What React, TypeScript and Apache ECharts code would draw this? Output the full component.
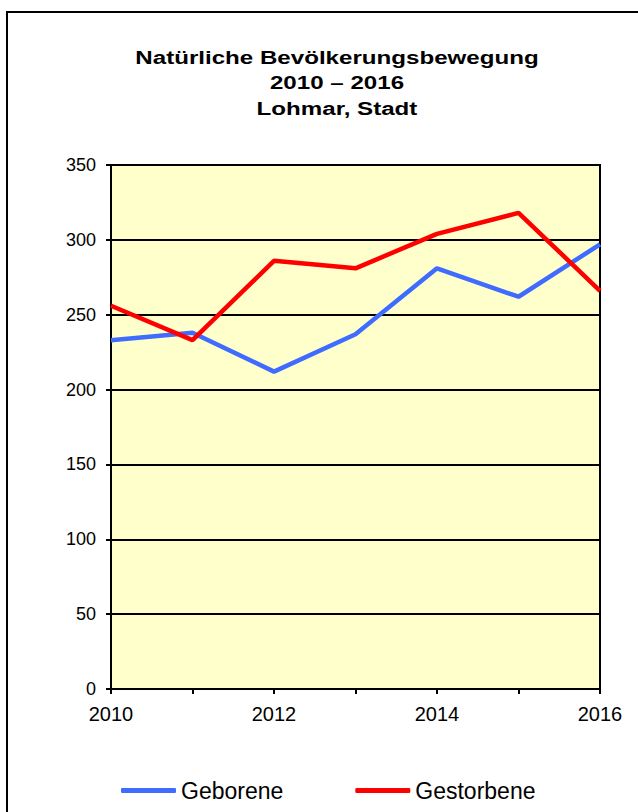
import React, { useEffect, useRef } from "react";
import * as echarts from "echarts";

const years = ["2010", "2011", "2012", "2013", "2014", "2015", "2016"];
const geborene = [233, 238, 212, 237, 281, 262, 297];
const gestorbene = [256, 233, 286, 281, 304, 318, 266];
const titleLines = ["Natürliche Bevölkerungsbewegung", "2010 – 2016", "Lohmar, Stadt"];

export default function App() {
  const ref = useRef<HTMLDivElement>(null);
  useEffect(() => {
    document.body.style.margin = "0";
    const chart = echarts.init(ref.current!, null, { renderer: "svg" });
    const font = "'Liberation Sans', Arial, sans-serif";
    const titleY = [57, 82, 108];
    chart.setOption({
      animation: false,
      backgroundColor: "#ffffff",
      textStyle: { fontFamily: font },
      graphic: [
        {
          type: "rect",
          shape: { x: 7, y: 12, width: 700, height: 900 },
          style: { fill: "none", stroke: "#000", lineWidth: 2 },
          silent: true,
        },
        ...titleLines.map((t, i) => ({
          type: "text",
          x: 337,
          y: titleY[i],
          scaleX: 1.27,
          silent: true,
          style: {
            text: t,
            fontFamily: font,
            fontSize: 19,
            fontWeight: "bold",
            fill: "#000",
            textAlign: "center",
            textVerticalAlign: "middle",
          },
        })),
      ],
      legend: {
        top: 774,
        left: 116,
        icon: "roundRect",
        itemWidth: 55,
        itemHeight: 5,
        itemGap: 72,
        textStyle: { fontFamily: font, fontSize: 23, color: "#000" },
        data: ["Geborene", "Gestorbene"],
      },
      grid: {
        left: 111,
        top: 165,
        right: 38,
        bottom: 123,
        backgroundColor: "#FFFFCC",
        show: true,
        borderWidth: 2,
        borderColor: "#000",
      },
      xAxis: {
        type: "category",
        data: years,
        boundaryGap: false,
        axisLine: { lineStyle: { color: "#000", width: 2 } },
        axisTick: { show: true, length: 5, interval: 0, lineStyle: { color: "#000", width: 2 } },
        axisLabel: { interval: 1, color: "#000", fontSize: 20, margin: 15, fontFamily: font },
        splitLine: { show: false },
      },
      yAxis: {
        type: "value",
        min: 0,
        max: 350,
        interval: 50,
        axisLine: { show: true, lineStyle: { color: "#000", width: 2 } },
        axisTick: { show: true, length: 5, lineStyle: { color: "#000", width: 2 } },
        axisLabel: { color: "#000", fontSize: 18, margin: 15, fontFamily: font },
        splitLine: { show: true, lineStyle: { color: "#000", width: 2 } },
      },
      series: [
        {
          name: "Geborene",
          type: "line",
          data: geborene,
          symbol: "none",
          color: "#3F6BFF",
          lineStyle: { color: "#3F6BFF", width: 4.5 },
        },
        {
          name: "Gestorbene",
          type: "line",
          data: gestorbene,
          symbol: "none",
          color: "#FF0000",
          lineStyle: { color: "#FF0000", width: 4.5 },
        },
      ],
    });
    return () => chart.dispose();
  }, []);
  return <div ref={ref} style={{ width: 638, height: 812 }} />;
}
